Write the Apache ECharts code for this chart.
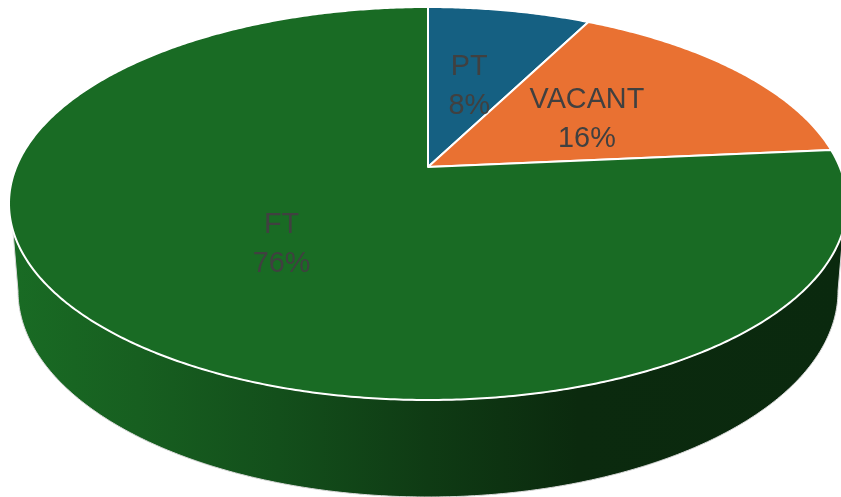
<!DOCTYPE html>
<html lang="en">
<head>
    <meta charset="utf-8">
    <title>Staffing pie</title>
    <script src="https://cdn.jsdelivr.net/npm/echarts@6/dist/echarts.min.js"></script>
    <style>
        html, body { margin: 0; padding: 0; background: #fff; }
        #chart { width: 841px; height: 497px; }
    </style>
</head>
<body>
<div id="chart"></div>
<script type="text/javascript">
    // chart data
    var categories = ['PT', 'VACANT', 'FT'];
    var values = [7.5, 16.05, 76.45];
    var colors = ['#156082', '#e97132', '#196b24'];

    // label placement along each slice's bisector, then a small nudge
    var labelRadius = [0.465, 0.49, 0.495];
    var labelNudgeX = [0, 0, 1];
    var labelNudgeY = [-1, 2, 3];

    var total = values.reduce(function (a, b) { return a + b; }, 0);

    // perspective used for the top of the pie, apex sits above the ellipse centre
    var apexX = 428, apexY = 167;
    var radiusX = 411.7, radiusY = 189.7, tilt = 0.1858;

    // bottom rim of the wall
    var rimX = 428, rimY = 291, rimRx = 410, rimRy = 206;
    var wallFrom = 108.2, wallTo = 251.8;

    function project(deg, r) {
        var a = deg * Math.PI / 180;
        var x = r * Math.sin(a), y = r * Math.cos(a);
        var d = 1 + tilt * y;
        return [apexX + radiusX * x / d, apexY - radiusY * y / d];
    }

    function sliceStart(i) {
        var sum = 0;
        for (var k = 0; k < i; k++) sum += values[k];
        return sum / total * 360;
    }

    function renderSlice(params, api) {
        var i = api.value(0);
        var from = sliceStart(i);
        var to = from + api.value(1) / total * 360;
        var points = [[apexX, apexY]];
        for (var t = from; t < to; t += 0.5) points.push(project(t, 1));
        points.push(project(to, 1));
        return {
            type: 'polygon',
            shape: { points: points },
            style: { fill: colors[i], stroke: '#fff', lineWidth: 2, lineJoin: 'round' }
        };
    }

    function renderWall() {
        var points = [];
        // front of the top edge, right to left
        for (var t = wallFrom; t <= wallTo; t += 0.5) points.push(project(t, 1));
        // bottom rim, left to right
        for (var a = 180; a >= 0; a -= 0.5) {
            var r = a * Math.PI / 180;
            points.push([rimX + rimRx * Math.cos(r), rimY + rimRy * Math.sin(r)]);
        }
        return {
            type: 'polygon',
            shape: { points: points },
            style: {
                stroke: '#d9d9d9',
                lineWidth: 1,
                fill: {
                    type: 'linear', x: 0, y: 0, x2: 1, y2: 0,
                    colorStops: [
                        { offset: 0, color: '#196b24' },
                        { offset: 0.15, color: '#175f20' },
                        { offset: 0.32, color: '#134f1b' },
                        { offset: 0.5, color: '#0f3b14' },
                        { offset: 0.68, color: '#0b2a0e' },
                        { offset: 1, color: '#0a290e' }
                    ]
                }
            }
        };
    }

    function renderLabel(params, api) {
        var i = api.value(0);
        var mid = sliceStart(i) + api.value(1) / total * 180;
        var p = project(mid, labelRadius[i]);
        return {
            type: 'text',
            style: {
                x: p[0] + labelNudgeX[i],
                y: p[1] + labelNudgeY[i],
                text: categories[i] + '\n' + Math.round(api.value(1) / total * 100) + '%',
                fill: '#404040',
                font: '28.8px "Liberation Sans", Arial, sans-serif',
                lineHeight: 39,
                align: 'center',
                verticalAlign: 'middle'
            }
        };
    }

    var seriesData = categories.map(function (name, i) {
        return { name: name, value: [i, values[i]] };
    });

    var myChart = echarts.init(document.getElementById('chart'));
    myChart.setOption({
        animation: false,
        backgroundColor: '#fff',
        series: [
            { type: 'custom', coordinateSystem: 'none', silent: true, z: 1, renderItem: renderWall, data: [seriesData[2]] },
            { type: 'custom', coordinateSystem: 'none', silent: true, z: 2, renderItem: renderSlice, data: seriesData },
            { type: 'custom', coordinateSystem: 'none', silent: true, z: 3, renderItem: renderLabel, data: seriesData }
        ]
    });
</script>
</body>
</html>
